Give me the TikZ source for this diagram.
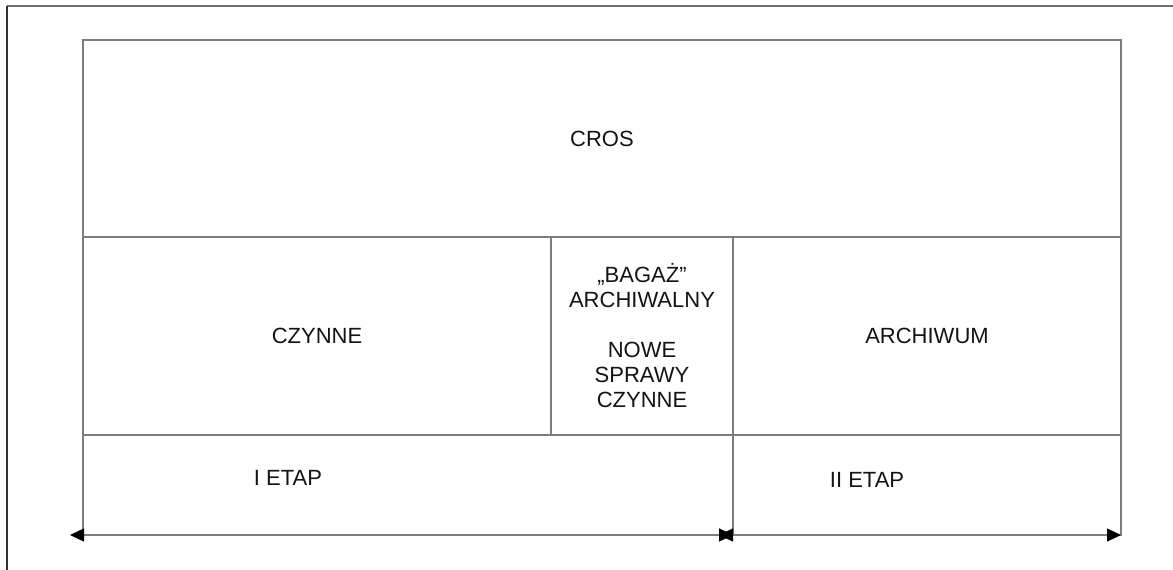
\documentclass[tikz,border=0pt]{standalone}
\usepackage{fontspec}
\setmainfont{Liberation Sans}
\usetikzlibrary{arrows.meta}
\definecolor{linegray}{RGB}{125,125,125}
\definecolor{framegray}{RGB}{110,110,110}
\definecolor{txt}{RGB}{20,20,20}
\begin{document}
\begin{tikzpicture}[x=1pt,y=-1pt,
  cell/.style={draw=linegray,line width=1.3pt,minimum width=#1,inner sep=0pt,outer sep=0pt,
    text=txt,font=\fontsize{22}{25}\selectfont,align=center},
  lbl/.style={inner sep=0pt,text=txt,font=\fontsize{22}{25}\selectfont,align=center},
  span/.style={linegray,line width=1.3pt,
    {Triangle[length=14pt,width=13pt,black]}-{Triangle[length=14pt,width=13pt,black]}}]
\useasboundingbox[fill=white] (0,0) rectangle (1173,570);
% outer frame (top and left edges)
\draw[framegray,line width=1.3pt] (1173,6) -- (7,6);
\draw[black!80,line width=1.3pt] (7,6) -- (7,570);
% cells
\node[cell=1038pt,minimum height=197pt] (cros) at (602,138.5) {CROS};
\node[cell=468pt,minimum height=198pt] (czynne) at (317,336) {CZYNNE};
\node[cell=182pt,minimum height=198pt] (mid) at (642,336) {}; 
\node[lbl] (midtxt) at (642,336) {„BAGAŻ”\\ARCHIWALNY\\[25pt]NOWE\\SPRAWY\\CZYNNE};
\node[cell=388pt,minimum height=198pt] (arch) at (927,336) {ARCHIWUM};
\node[cell=650pt,minimum height=100pt] (etap1) at (408,485) {};
\node[cell=388pt,minimum height=100pt] (etap2) at (927,485) {};
\node[lbl] (l1) at (288,478) {I ETAP};
\node[lbl] (l2) at (867,480) {II ETAP};
% arrows
\coordinate (aL) at ([xshift=-13pt]etap1.south west);
\coordinate (aM1) at (etap1.south east);
\coordinate (aM2) at ([xshift=-14pt]etap1.south east);
\coordinate (aR) at (etap2.south east);
\draw[span] (aL) -- (aM1);
\draw[span] (aM2) -- (aR);
\end{tikzpicture}
\end{document}
